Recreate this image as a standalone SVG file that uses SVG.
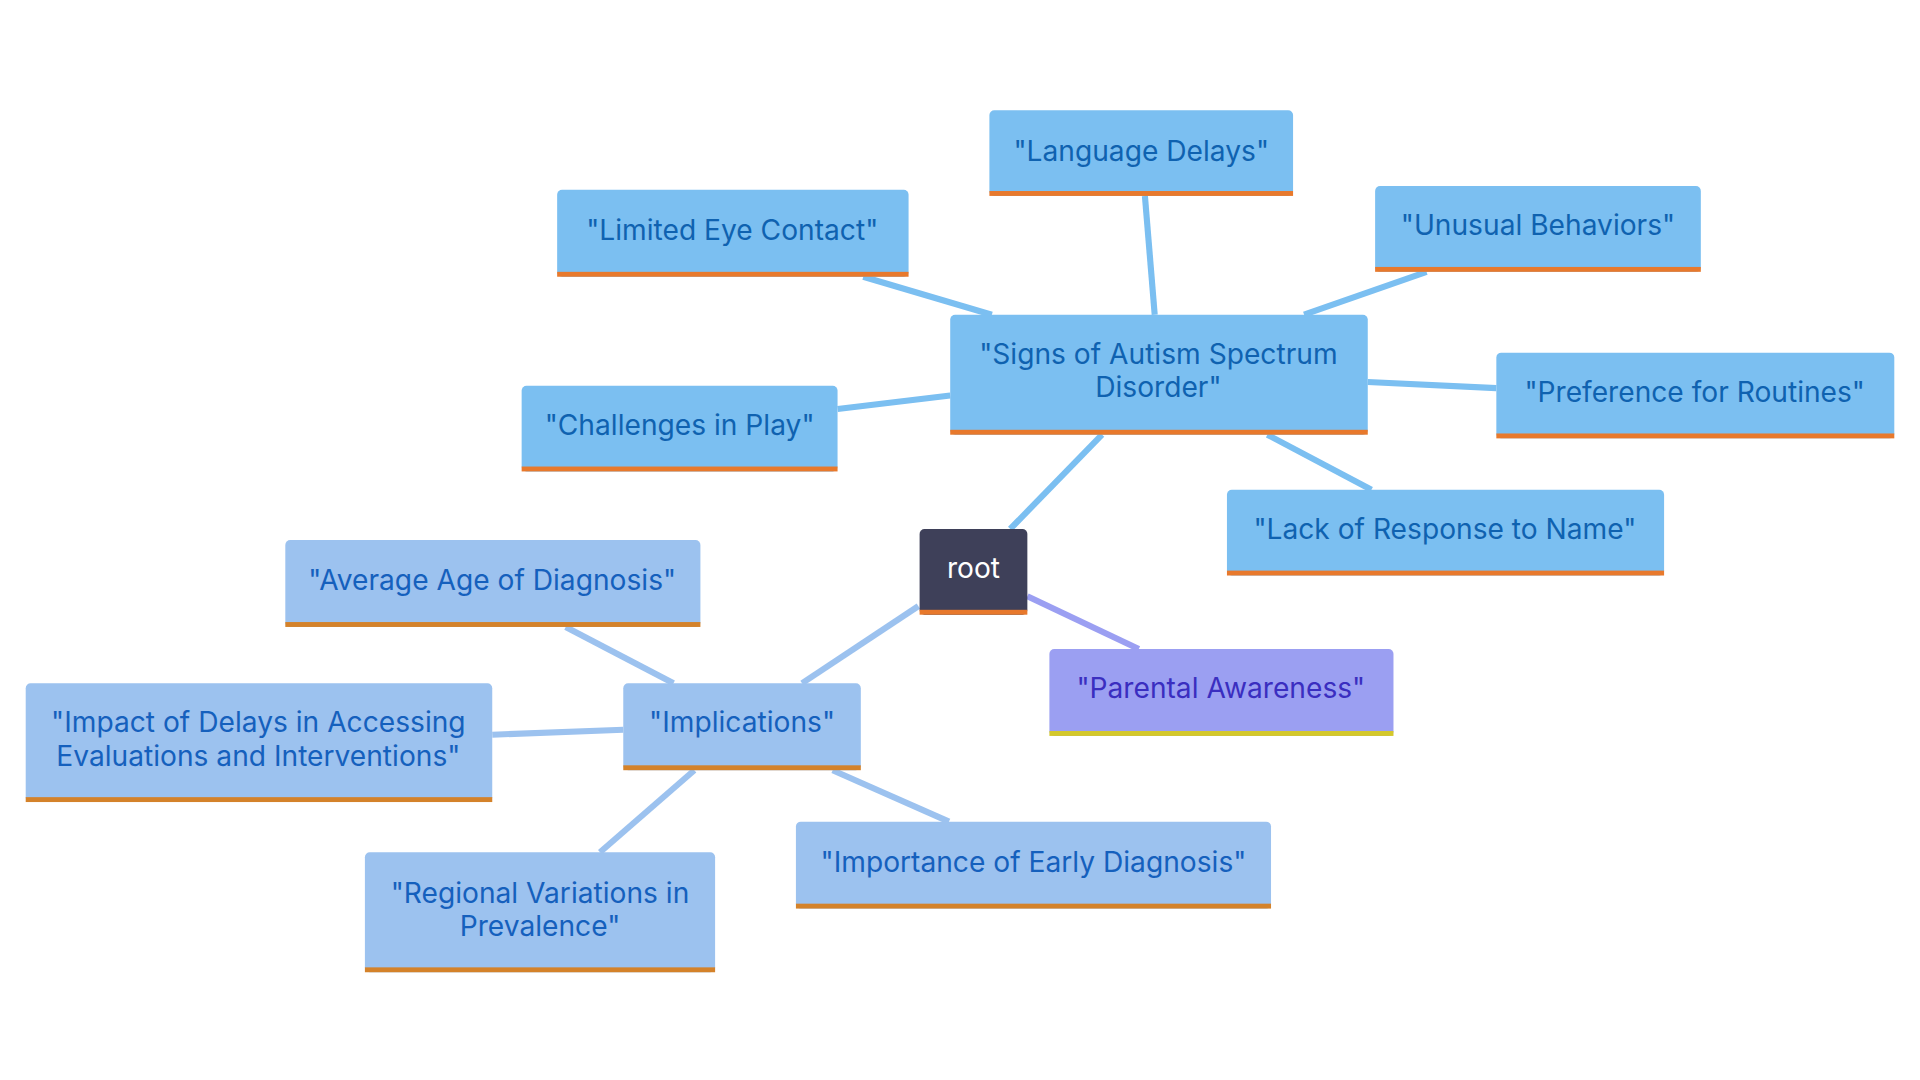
<svg xmlns="http://www.w3.org/2000/svg" width="1920" height="1080" viewBox="0 0 1920 1080">
<style>
text{font-family:Inter,"Noto Sans",sans-serif;font-size:23px;text-anchor:middle;dominant-baseline:central}
.s rect.b{fill:#7BBFF1}.s text{fill:#0F62B0}.s rect.u{fill:#E8792C}
.i rect.b{fill:#9CC2EF}.i text{fill:#1560BD}.i rect.u{fill:#D4822A}
.e1{stroke:#7BBFF1;stroke-width:5;fill:none}
.e2{stroke:#9CC2EF;stroke-width:5;fill:none}
</style>
<rect width="1920" height="1080" fill="#fff"/>
<g transform="scale(1.2245)">
<g id="connectors">
<line class="e1" x1="825" y1="432" x2="900" y2="355"/>
<line class="e1" x1="943" y1="257" x2="935" y2="160"/>
<line class="e1" x1="810" y1="257" x2="705" y2="226"/>
<line class="e1" x1="1065" y1="257" x2="1165" y2="222"/>
<line class="e1" x1="1117" y1="312" x2="1222" y2="317"/>
<line class="e1" x1="776" y1="323" x2="684" y2="334"/>
<line class="e1" x1="1035" y1="355" x2="1120" y2="400"/>
<line class="e2" x1="750" y1="495" x2="655" y2="558"/>
<line class="e2" x1="550" y1="558" x2="462" y2="512"/>
<line class="e2" x1="509" y1="596" x2="402" y2="600"/>
<line class="e2" x1="567" y1="629" x2="490" y2="696"/>
<line class="e2" x1="680" y1="629" x2="775" y2="671"/>
<line x1="839" y1="487" x2="930" y2="530" stroke="#9B9FF2" stroke-width="5"/>
</g>
<g id="root"><rect x="751" y="432" width="88" height="70" rx="4" fill="#3E4059"/><rect x="751" y="498" width="88" height="4" fill="#E8792C"/><text x="795" y="464" fill="#fff">root</text></g>
<g id="signs" class="s"><rect class="b" x="776" y="257" width="341" height="98" rx="4"/><rect class="u" x="776" y="351" width="341" height="4"/><text x="946" y="289">"Signs of Autism Spectrum</text><text x="946" y="316">Disorder"</text></g>
<g id="lang" class="s"><rect class="b" x="808" y="90" width="248" height="70" rx="4"/><rect class="u" x="808" y="156" width="248" height="4"/><text x="932" y="123">"Language Delays"</text></g>
<g id="eye" class="s"><rect class="b" x="455" y="155" width="287" height="71" rx="4"/><rect class="u" x="455" y="222" width="287" height="4"/><text x="598" y="188">"Limited Eye Contact"</text></g>
<g id="unusual" class="s"><rect class="b" x="1123" y="152" width="266" height="70" rx="4"/><rect class="u" x="1123" y="218" width="266" height="4"/><text x="1256" y="184">"Unusual Behaviors"</text></g>
<g id="routines" class="s"><rect class="b" x="1222" y="288" width="325" height="70" rx="4"/><rect class="u" x="1222" y="354" width="325" height="4"/><text x="1384" y="320">"Preference for Routines"</text></g>
<g id="play" class="s"><rect class="b" x="426" y="315" width="258" height="70" rx="4"/><rect class="u" x="426" y="381" width="258" height="4"/><text x="555" y="347">"Challenges in Play"</text></g>
<g id="name" class="s"><rect class="b" x="1002" y="400" width="357" height="70" rx="4"/><rect class="u" x="1002" y="466" width="357" height="4"/><text x="1180" y="432">"Lack of Response to Name"</text></g>
<g id="impl" class="i"><rect class="b" x="509" y="558" width="194" height="71" rx="4"/><rect class="u" x="509" y="625" width="194" height="4"/><text x="606" y="590">"Implications"</text></g>
<g id="age" class="i"><rect class="b" x="233" y="441" width="339" height="71" rx="4"/><rect class="u" x="233" y="508" width="339" height="4"/><text x="402" y="474">"Average Age of Diagnosis"</text></g>
<g id="impact" class="i"><rect class="b" x="21" y="558" width="381" height="97" rx="4"/><rect class="u" x="21" y="651" width="381" height="4"/><text x="211" y="590">"Impact of Delays in Accessing</text><text x="211" y="617">Evaluations and Interventions"</text></g>
<g id="regional" class="i"><rect class="b" x="298" y="696" width="286" height="98" rx="4"/><rect class="u" x="298" y="790" width="286" height="4"/><text x="441" y="729">"Regional Variations in</text><text x="441" y="756">Prevalence"</text></g>
<g id="early" class="i"><rect class="b" x="650" y="671" width="388" height="71" rx="4"/><rect class="u" x="650" y="738" width="388" height="4"/><text x="844" y="704">"Importance of Early Diagnosis"</text></g>
<g id="parental"><rect x="857" y="530" width="281" height="71" rx="4" fill="#9B9FF2"/><rect x="857" y="597" width="281" height="4" fill="#D4C82A"/><text x="997" y="562" fill="#3A2EC0">"Parental Awareness"</text></g>
</g>
</svg>
